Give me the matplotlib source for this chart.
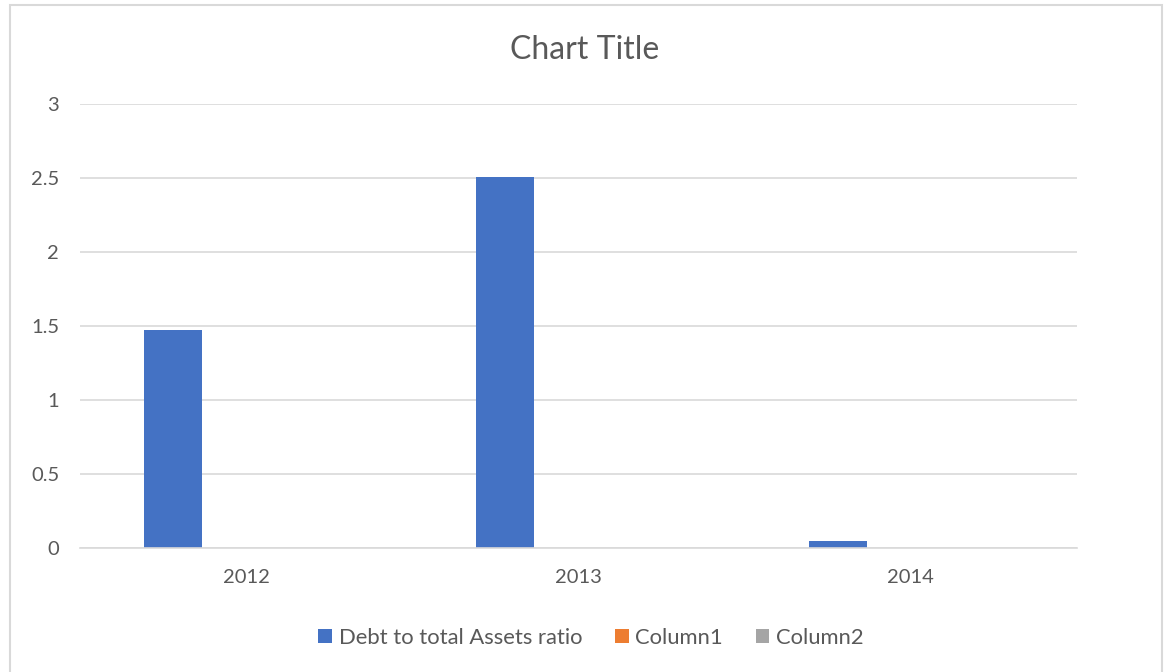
import numpy as np
import matplotlib
matplotlib.use("Agg")
import matplotlib.pyplot as plt
from matplotlib.patches import Rectangle

years = ["2012", "2013", "2014"]
series_names = ["Debt to total Assets ratio", "Column1", "Column2"]
debt_ratio = [1.47, 2.51, 0.05]
column1 = [0, 0, 0]
column2 = [0, 0, 0]
colors = ["#4472C4", "#ED7D31", "#A5A5A5"]

plt.rcParams["font.family"] = ["Lato", "DejaVu Sans"]
text_color = "#595959"

fig = plt.figure(figsize=(11.65, 6.72), dpi=100, facecolor="white")
ax = fig.add_axes([80 / 1165, 124 / 672, 997 / 1165, 444 / 672])

# chart border
fig.patches.append(Rectangle((10 / 1165, -0.01), 1152 / 1165, 667 / 672 + 0.01,
                             transform=fig.transFigure, fill=False,
                             edgecolor="#D9D9D9", linewidth=1.5))

x = np.arange(len(years))
width = 0.175
offset = 0.22
for i, (vals, name, c) in enumerate(zip([debt_ratio, column1, column2], series_names, colors)):
    ax.bar(x + (i - 1) * offset, vals, width, color=c, label=name, linewidth=0)

ax.set_xlim(-0.5, 2.5)
ax.set_ylim(0, 3)
ax.set_yticks([0, 0.5, 1, 1.5, 2, 2.5, 3])
ax.set_yticklabels(["0", "0.5", "1", "1.5", "2", "2.5", "3"])
ax.set_xticks(x)
ax.set_xticklabels(years)
ax.grid(axis="y", color="#D9D9D9", linewidth=1.2)
ax.set_axisbelow(True)
for s in ["top", "right", "left"]:
    ax.spines[s].set_visible(False)
ax.spines["bottom"].set_color("#D9D9D9")
ax.spines["bottom"].set_linewidth(1.2)
ax.tick_params(axis="both", length=0, labelsize=14.5, colors=text_color)
ax.tick_params(axis="y", pad=15)
ax.tick_params(axis="x", pad=15)

fig.text(585 / 1165, 1 - 50 / 672, "Chart Title", ha="center", va="center",
         fontsize=23, color=text_color)

leg = fig.legend(loc="center", bbox_to_anchor=(591 / 1165, 1 - 638 / 672), ncol=3,
                 frameon=False, fontsize=15.8, handlelength=0.62, handleheight=0.62,
                 handletextpad=0.3, columnspacing=1.5)
for t in leg.get_texts():
    t.set_color(text_color)

fig.savefig("out.png", dpi=100, facecolor="white")
